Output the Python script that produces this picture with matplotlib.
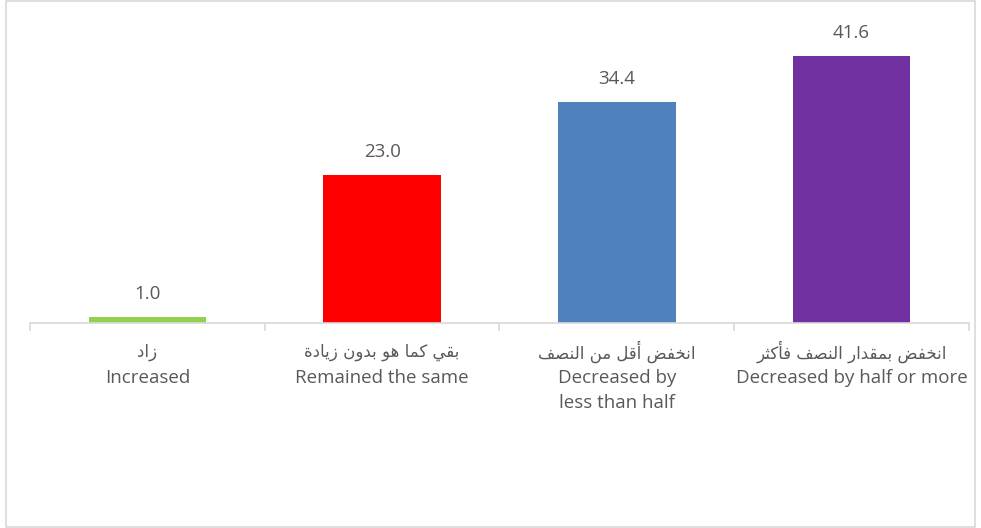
import matplotlib
matplotlib.use("Agg")
import matplotlib.pyplot as plt
from matplotlib.patches import Rectangle

# data
labels_ar = ["زاد", "بقي كما هو بدون زيادة", "انخفض أقل من النصف", "انخفض بمقدار النصف فأكثر"]
labels_en = ["Increased", "Remained the same", "Decreased by\nless than half", "Decreased by half or more"]
values = [1.0, 23.0, 34.4, 41.6]
colors = ["#92D050", "#FF0000", "#4F81BD", "#7030A0"]

# arabic presentation forms: isolated, final, initial, medial
FORMS = {
    'ا': ('\uFE8D', '\uFE8E', None, None), 'أ': ('\uFE83', '\uFE84', None, None),
    'ب': ('\uFE8F', '\uFE90', '\uFE91', '\uFE92'), 'ة': ('\uFE93', '\uFE94', None, None),
    'ث': ('\uFE99', '\uFE9A', '\uFE9B', '\uFE9C'), 'خ': ('\uFEA5', '\uFEA6', '\uFEA7', '\uFEA8'),
    'د': ('\uFEA9', '\uFEAA', None, None), 'ر': ('\uFEAD', '\uFEAE', None, None),
    'ز': ('\uFEAF', '\uFEB0', None, None), 'ص': ('\uFEB9', '\uFEBA', '\uFEBB', '\uFEBC'),
    'ض': ('\uFEBD', '\uFEBE', '\uFEBF', '\uFEC0'), 'ف': ('\uFED1', '\uFED2', '\uFED3', '\uFED4'),
    'ق': ('\uFED5', '\uFED6', '\uFED7', '\uFED8'), 'ك': ('\uFED9', '\uFEDA', '\uFEDB', '\uFEDC'),
    'ل': ('\uFEDD', '\uFEDE', '\uFEDF', '\uFEE0'), 'م': ('\uFEE1', '\uFEE2', '\uFEE3', '\uFEE4'),
    'ن': ('\uFEE5', '\uFEE6', '\uFEE7', '\uFEE8'), 'ه': ('\uFEE9', '\uFEEA', '\uFEEB', '\uFEEC'),
    'و': ('\uFEED', '\uFEEE', None, None), 'ي': ('\uFEF1', '\uFEF2', '\uFEF3', '\uFEF4'),
}

def dual(c):
    return c in FORMS and FORMS[c][2] is not None

def shape(text):
    out = []
    for i, c in enumerate(text):
        if c not in FORMS:
            out.append(c); continue
        prev = i > 0 and dual(text[i - 1])
        nxt = dual(c) and i + 1 < len(text) and text[i + 1] in FORMS
        if prev and nxt: out.append(FORMS[c][3])
        elif prev: out.append(FORMS[c][1])
        elif nxt: out.append(FORMS[c][2])
        else: out.append(FORMS[c][0])
    return ''.join(out)[::-1]

text_color = "#595959"
grid_color = "#D9D9D9"
fonts = ["Open Sans", "DejaVu Sans"]
px = 72 / 100  # pixels -> points

fig = plt.figure(figsize=(9.81, 5.28), dpi=100)
ax = fig.add_axes([30 / 981, 205 / 528, 939 / 981, 289 / 528])
fig.patches.append(Rectangle((6 / 981, 1 / 528), 969 / 981, 526 / 528, transform=fig.transFigure,
                             fill=False, edgecolor=grid_color, linewidth=1.2))

x = list(range(len(values)))
bars = ax.bar(x, values, width=0.5, color=colors)
for b, v in zip(bars, values):
    ax.annotate(f"{v:.1f}", (b.get_x() + b.get_width() / 2, v), xytext=(0, 23 * px), textcoords="offset points",
                ha="center", va="center", fontsize=13.5, color=text_color, family=fonts)

ax.set_xlim(-0.5, 3.5)
ax.set_ylim(0, 45)
ax.set_yticks([])
for s in ["top", "right", "left"]:
    ax.spines[s].set_visible(False)
ax.spines["bottom"].set_color(grid_color)
ax.spines["bottom"].set_linewidth(1.2)

ax.set_xticks(x)
ax.set_xticklabels([])
ax.tick_params(axis="x", which="major", length=0)
ax.set_xticks([-0.5, 0.5, 1.5, 2.5, 3.5], minor=True)
ax.tick_params(axis="x", which="minor", length=6, color=grid_color, width=1.2)

# category labels: arabic line, then english lines
for i, (a, e) in enumerate(zip(labels_ar, labels_en)):
    ax.annotate(shape(a), (i, 0), xycoords=("data", "axes fraction"), xytext=(0, -29 * px),
                textcoords="offset points", ha="center", va="center", fontsize=12, color=text_color,
                family=["DejaVu Sans"])
    for k, line in enumerate(e.split("\n")):
        ax.annotate(line, (i, 0), xycoords=("data", "axes fraction"), xytext=(0, -(55 + 25 * k) * px),
                    textcoords="offset points", ha="center", va="center", fontsize=13.5, color=text_color,
                    family=fonts)

fig.savefig("out.png", dpi=100)
